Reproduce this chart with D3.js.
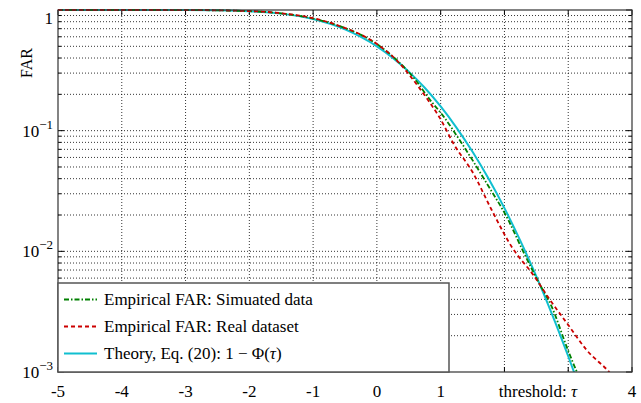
<!DOCTYPE html>
<html><head><meta charset="utf-8">
<script src="https://cdn.jsdelivr.net/npm/d3@7/dist/d3.min.js"></script>
<style>body{margin:0;background:#fff;} svg{display:block;} text{font-family:"Liberation Serif","Times New Roman",serif;fill:#000;}</style>
</head><body><svg id="c" width="641" height="403"></svg>
<script>
// Data
const xTicks = [-5,-4,-3,-2,-1,0,1,2,3,4];
const xTickLabels = ["-5","-4","-3","-2","-1","0","1","","","4"];
const yMajor = [1e-3,1e-2,1e-1,1];
const yMajorLabels = [["10","−3"],["10","−2"],["10","−1"],["1",""]];
const seriesNames = ["Empirical FAR: Simuated data","Empirical FAR: Real dataset","Theory, Eq. (20): 1 − Φ(τ)"];

const simTau = [-5,-4,-3,-2,-1.5,-1,-0.63,0.022,0.311,0.6,0.833,1.041,1.33,1.722,2.06,2.27,2.531,2.741,2.976,3.133,3.2];
const simFar = [1,1,0.999,0.978,0.937,0.85,0.75,0.512,0.385,0.265,0.18,0.132,0.0786,0.0366,0.0182,0.0106,0.0056,0.00348,0.00162,0.00101,0.00085];

const realTau = [-5,-4,-3,-2,-1.5,-1,-0.63,0.022,0.311,0.676,0.806,0.989,1.198,1.511,1.8,2.113,2.452,2.714,3.001,3.289,3.655,3.8];
const realFar = [1,1,0.999,0.98,0.94,0.855,0.751,0.513,0.382,0.222,0.178,0.127,0.0786,0.0443,0.022,0.0109,0.00637,0.00396,0.00245,0.00152,0.00098,0.00078];

const theoTau = [-5,-4,-3,-2.5,-2,-1.5,-1,-0.5,0,0.25,0.5,0.75,1,1.25,1.5,1.75,2,2.25,2.5,2.75,3,3.1];
const theoFar = [1,0.99997,0.99865,0.9938,0.9772,0.9332,0.8413,0.6915,0.5,0.401,0.3085,0.2266,0.1587,0.1056,0.0668,0.0401,0.0228,0.0122,0.0062,0.00298,0.00135,0.00097];

const L=58, R=632, T=10, B=372;
const svg = d3.select("#c");
const x = d3.scaleLinear().domain([-5,4]).range([L,R]);
const y = d3.scaleLog().domain([1e-3,1]).range([B,T]);

const yMinor = [];
[1e-3,1e-2,1e-1].forEach(d=>{for(let k=2;k<=9;k++) yMinor.push(d*k);});

const grid = svg.append("g").attr("stroke","#000").attr("stroke-width",0.8).attr("stroke-dasharray","1,2").attr("fill","none");
yMinor.concat(yMajor.slice(1,3)).forEach(v=>{
  grid.append("line").attr("x1",L).attr("x2",R).attr("y1",y(v)).attr("y2",y(v));
});
xTicks.slice(1,-1).forEach(v=>{
  grid.append("line").attr("x1",x(v)).attr("x2",x(v)).attr("y1",T).attr("y2",B);
});

const tk = svg.append("g").attr("stroke","#000").attr("stroke-width",1);
xTicks.forEach(v=>{
  tk.append("line").attr("x1",x(v)).attr("x2",x(v)).attr("y1",B).attr("y2",B-5);
  tk.append("line").attr("x1",x(v)).attr("x2",x(v)).attr("y1",T).attr("y2",T+5);
});
yMajor.forEach(v=>{
  tk.append("line").attr("x1",L).attr("x2",L+6).attr("y1",y(v)).attr("y2",y(v));
  tk.append("line").attr("x1",R).attr("x2",R-6).attr("y1",y(v)).attr("y2",y(v));
});
yMinor.forEach(v=>{
  tk.append("line").attr("x1",L).attr("x2",L+3).attr("y1",y(v)).attr("y2",y(v));
  tk.append("line").attr("x1",R).attr("x2",R-3).attr("y1",y(v)).attr("y2",y(v));
});

svg.append("clipPath").attr("id","clip").append("rect").attr("x",L).attr("y",T-2).attr("width",R-L).attr("height",B-T+2);
const line = d3.line().x(d=>x(d[0])).y(d=>y(d[1])).curve(d3.curveMonotoneX);
const cg = svg.append("g").attr("clip-path","url(#clip)").attr("fill","none");
cg.append("path").datum(d3.zip(theoTau,theoFar)).attr("d",line).attr("stroke","#10bfd0").attr("stroke-width",2);
cg.append("path").datum(d3.zip(simTau,simFar)).attr("d",line).attr("stroke","#008000").attr("stroke-width",1.8).attr("stroke-dasharray","5,2,1.5,2");
cg.append("path").datum(d3.zip(realTau,realFar)).attr("d",line).attr("stroke","#cc0000").attr("stroke-width",1.8).attr("stroke-dasharray","4,3");

svg.append("rect").attr("x",L).attr("y",T).attr("width",R-L).attr("height",B-T).attr("fill","none").attr("stroke","#333").attr("stroke-width",1.2);

const fs = 17;
xTicks.forEach((v,i)=>{
  if(!xTickLabels[i]) return;
  svg.append("text").attr("x",x(v)).attr("y",397).attr("text-anchor","middle").attr("font-size",fs).text(xTickLabels[i]);
});
svg.append("text").attr("x",538).attr("y",397).attr("text-anchor","middle").attr("font-size",fs)
  .call(t=>{t.append("tspan").text("threshold: "); t.append("tspan").attr("font-style","italic").text("τ");});

yMajor.forEach((v,i)=>{
  const [b,e]=yMajorLabels[i];
  const t = svg.append("text").attr("x",53).attr("y",y(v)+(e?6:14)).attr("text-anchor","end").attr("font-size",fs);
  t.append("tspan").text(b);
  if(e) t.append("tspan").attr("dy",-8).attr("font-size",13).text(e);
});
svg.append("text").attr("transform","translate(32,63) rotate(-90)").attr("text-anchor","middle").attr("font-size",fs-1).text("FAR");

const lg = svg.append("g");
lg.append("rect").attr("x",L).attr("y",283).attr("width",449-L).attr("height",B-283).attr("fill","#fff").attr("stroke","#555").attr("stroke-width",1.5);
const styles = [{c:"#008000",d:"5,2,1.5,2"},{c:"#cc0000",d:"4,3"},{c:"#10bfd0",d:null}];
seriesNames.forEach((n,i)=>{
  const yy = 299.5 + i*27;
  const l = lg.append("line").attr("x1",64).attr("x2",97).attr("y1",yy).attr("y2",yy).attr("stroke",styles[i].c).attr("stroke-width",2);
  if(styles[i].d) l.attr("stroke-dasharray",styles[i].d);
  const t = lg.append("text").attr("x",104).attr("y",yy+5.5).attr("font-size",fs);
  if(i<2) t.text(n);
  else { t.append("tspan").text("Theory, Eq. (20): 1 − Φ("); t.append("tspan").attr("font-style","italic").text("τ"); t.append("tspan").text(")"); }
});
</script></body></html>
